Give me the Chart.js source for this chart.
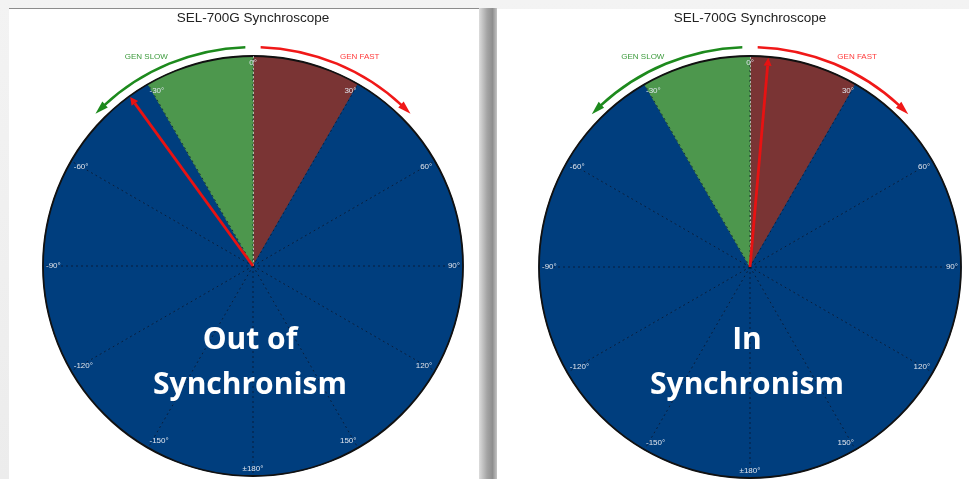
<!DOCTYPE html>
<html>
<head>
<meta charset="utf-8">
<script src="https://cdn.jsdelivr.net/npm/chart.js@4/dist/chart.umd.min.js"></script>
<style>
html, body { margin: 0; padding: 0; }
body { width: 969px; height: 479px; overflow: hidden; position: relative;
  background: linear-gradient(180deg, #f3f3f3, #ececec); }
.panel { position: absolute; background: #fff; }
#p1 { left: 9px; top: 8px; width: 470px; height: 471px; border-top: 1px solid #8c8c8c; }
#p2 { left: 497px; top: 9px; width: 472px; height: 470px; }
#strip { position: absolute; left: 479px; top: 8px; width: 18px; height: 471px;
  background: linear-gradient(90deg, #dcdcdc, #a4a4a4 45%, #8e8e8e 75%, #c4c4c4); }
canvas { position: absolute; top: 0; }
#c1 { left: 9px; }
#c2 { left: 497px; }
.big { position: absolute; width: 260px; color: #fff; text-align: center;
  font-family: "Open Sans", sans-serif; font-weight: 700; font-size: 30px; line-height: 45px; }
#t1 { left: 120px; top: 315px; }
#t2 { left: 617px; top: 315px; }
</style>
</head>
<body>
<div class="panel" id="p1"></div>
<div id="strip"></div>
<div class="panel" id="p2"></div>
<canvas id="c1" width="470" height="479"></canvas>
<canvas id="c2" width="472" height="479"></canvas>
<div class="big" id="t1"></div>
<div class="big" id="t2"></div>
<script>
// boundaries every 30 degrees, clockwise from the top
var angleLabels = ["0°", "30°", "60°", "90°", "120°", "150°", "±180°",
                   "-150°", "-120°", "-90°", "-60°", "-30°"];
// every sector reaches the rim
var sectorValues = [1, 1, 1, 1, 1, 1, 1, 1, 1, 1, 1, 1];
// sector zone: fast (0..30), slow (-30..0), rest normal
var sectorZones = ["fast", "n", "n", "n", "n", "n", "n", "n", "n", "n", "n", "slow"];
var chartTitle = "SEL-700G Synchroscope";
var needleAngles = [-36, 5];
var captions = [["Out of", "Synchronism"], ["In", "Synchronism"]];

var zoneColor = { fast: "#7a3434", slow: "#4d974d", n: "#003e7e" };

var scopeDecor = {
  id: 'scopeDecor',
  afterDraw: function(chart, args, opts) {
    var s = chart.scales.r, ctx = chart.ctx;
    var R = s.drawingArea, cx = s.xCenter, cy = s.yCenter;
    function rad(d) { return (d - 90) * Math.PI / 180; }
    function pt(d, r) { return { x: cx + r * Math.cos(rad(d)), y: cy + r * Math.sin(rad(d)) }; }
    ctx.save();

    // light dotted line along 0 deg (between the two coloured sectors)
    var top = s.getPointPosition(0, R);
    ctx.strokeStyle = 'rgba(200,200,200,0.8)';
    ctx.lineWidth = 1;
    ctx.setLineDash([2, 2]);
    ctx.beginPath(); ctx.moveTo(cx + 0.5, cy); ctx.lineTo(top.x + 0.5, top.y); ctx.stroke();
    ctx.setLineDash([]);

    // degree labels just inside the rim
    ctx.font = '8px "Liberation Sans", Arial, sans-serif';
    ctx.fillStyle = '#dfe5ee';
    angleLabels.forEach(function(lab, i) {
      var p = s.getPointPosition(i, R - 3);
      var dx = Math.cos(p.angle), dy = Math.sin(p.angle);
      ctx.textAlign = dx > 0.3 ? 'right' : (dx < -0.3 ? 'left' : 'center');
      ctx.textBaseline = dy < -0.3 ? 'top' : (dy > 0.3 ? 'bottom' : 'middle');
      ctx.fillText(lab, p.x, p.y);
    });

    // GEN SLOW / GEN FAST arcs
    var rr = R + 9;
    [[-1, '#1d8a1d', '#3b9a3b', 'GEN SLOW'], [1, '#f01818', '#ff3a3a', 'GEN FAST']].forEach(function(a) {
      var sg = a[0];
      ctx.strokeStyle = a[1];
      ctx.fillStyle = a[1];
      ctx.lineWidth = 2.5;
      ctx.beginPath();
      if (sg < 0) ctx.arc(cx, cy, rr, rad(-43), rad(-2));
      else ctx.arc(cx, cy, rr, rad(2), rad(43));
      ctx.stroke();
      var tip = pt(sg * 46, rr), b1 = pt(sg * 42.5, rr - 4), b2 = pt(sg * 42.5, rr + 4);
      ctx.beginPath();
      ctx.moveTo(tip.x, tip.y); ctx.lineTo(b1.x, b1.y); ctx.lineTo(b2.x, b2.y);
      ctx.closePath(); ctx.fill();
      var lp = pt(sg * 27, R + 25);
      ctx.font = '8px "Liberation Sans", Arial, sans-serif';
      ctx.fillStyle = a[2];
      ctx.textAlign = 'center';
      ctx.textBaseline = 'middle';
      ctx.fillText(a[3], lp.x, lp.y);
    });

    // needle
    var d = opts.needle;
    var end = pt(d, R - 9), tipN = pt(d, R - 1);
    ctx.strokeStyle = '#e81212';
    ctx.fillStyle = '#e81212';
    ctx.lineWidth = 2.8;
    ctx.beginPath(); ctx.moveTo(cx, cy); ctx.lineTo(end.x, end.y); ctx.stroke();
    var n = Math.PI / 2, ang = rad(d);
    ctx.beginPath();
    ctx.moveTo(tipN.x, tipN.y);
    ctx.lineTo(end.x + 4 * Math.cos(ang + n), end.y + 4 * Math.sin(ang + n));
    ctx.lineTo(end.x + 4 * Math.cos(ang - n), end.y + 4 * Math.sin(ang - n));
    ctx.closePath(); ctx.fill();
    ctx.restore();
  }
};

function makeScope(id, needle, pad) {
  var fills = sectorZones.map(function(z) { return zoneColor[z]; });
  return new Chart(document.getElementById(id), {
    type: 'polarArea',
    data: {
      labels: angleLabels,
      datasets: [{
        data: sectorValues,
        backgroundColor: fills,
        borderColor: fills,
        borderWidth: 1
      }]
    },
    options: {
      responsive: false,
      animation: false,
      layout: { padding: pad },
      scales: {
        r: {
          z: 1,
          min: 0, max: 1,
          startAngle: 0,
          ticks: { display: false, stepSize: 1, z: 1 },
          pointLabels: { display: false },
          grid: {
            z: 1,
            circular: true,
            lineWidth: 1.8,
            color: function(c) { return c.tick && c.tick.value === 1 ? '#111' : 'rgba(0,0,0,0)'; }
          },
          angleLines: {
            display: true,
            lineWidth: 1,
            borderDash: [2, 3],
            color: 'rgba(8,20,42,0.75)'
          }
        }
      },
      plugins: {
        legend: { display: false },
        tooltip: { enabled: false },
        title: {
          display: true,
          text: chartTitle,
          color: '#222',
          font: { family: 'Liberation Sans', size: 13.5, weight: 'normal' },
          padding: { top: 10, bottom: 29 }
        },
        scopeDecor: { needle: needle }
      }
    },
    plugins: [scopeDecor]
  });
}

makeScope('c1', needleAngles[0], { left: 18, right: 0, top: 0, bottom: 2 });
makeScope('c2', needleAngles[1], { left: 34, right: 0, top: 0, bottom: 0 });

document.getElementById('t1').innerHTML = captions[0].join('<br>');
document.getElementById('t2').innerHTML = captions[1].join('<br>');
</script>
</body>
</html>
